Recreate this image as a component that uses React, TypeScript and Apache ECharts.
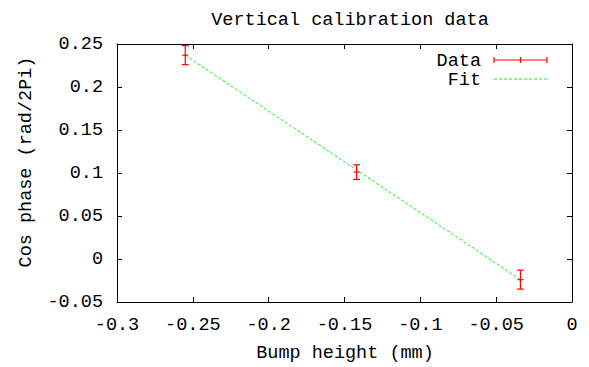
import React, { useEffect, useRef } from "react";
import * as echarts from "echarts";

const titleText = "Vertical calibration data";
const xAxisTitle = "Bump height (mm)";
const yAxisTitle = "Cos phase (rad/2Pi)";

// Data points with error bars
const bumpHeight = [-0.255, -0.142, -0.034];
const cosPhase = [0.237, 0.101, -0.024];
const phaseErr = [0.011, 0.0085, 0.011];

// Fit line endpoints
const fitX = [-0.255, -0.034];
const fitY = [0.237, -0.024];

const xMin = -0.3;
const xMax = 0;
const yMin = -0.05;
const yMax = 0.25;
const tickStep = 0.05;

const FONT = "Liberation Mono";
const FS = 18.5;

function fmt(v: number) {
  const r = parseFloat(v.toFixed(2));
  return r === 0 ? "0" : String(r);
}

export default function App() {
  const ref = useRef<HTMLDivElement>(null);
  useEffect(() => {
    if (!ref.current) return;
    const chart = echarts.init(ref.current, null, { renderer: "svg" });
    const errData = bumpHeight.map((x, i) => [
      x,
      cosPhase[i],
      cosPhase[i] - phaseErr[i],
      cosPhase[i] + phaseErr[i],
    ]);
    const axisCommon = {
      type: "value" as const,
      interval: tickStep,
      axisLine: { show: true, onZero: false, lineStyle: { color: "#000", width: 1 } },
      axisTick: { show: true, inside: true, length: 5, lineStyle: { color: "#000" } },
      splitLine: { show: false },
    };
    const labelCommon = {
      show: true,
      formatter: fmt,
      fontFamily: FONT,
      fontSize: FS,
      color: "#000",
      showMinLabel: true,
      showMaxLabel: true,
      hideOverlap: false,
    };
    chart.setOption({
      animation: false,
      backgroundColor: "#fff",
      textStyle: { fontFamily: FONT },
      title: {
        text: titleText,
        left: 345,
        top: 6,
        textAlign: "center",
        textStyle: { fontFamily: FONT, fontSize: FS, fontWeight: "normal", color: "#000" },
      },
      grid: { left: 117, right: 17, top: 44, bottom: 65, show: false },
      xAxis: [
        {
          ...axisCommon,
          min: xMin,
          max: xMax,
          position: "bottom",
          axisLabel: { ...labelCommon, margin: 14 },
        },
        {
          ...axisCommon,
          min: xMin,
          max: xMax,
          position: "top",
          axisLabel: { show: false },
        },
      ],
      yAxis: [
        {
          ...axisCommon,
          min: yMin,
          max: yMax,
          position: "left",
          axisLabel: { ...labelCommon, margin: 14 },
        },
        {
          ...axisCommon,
          min: yMin,
          max: yMax,
          position: "right",
          axisLabel: { show: false },
        },
      ],
      series: [
        {
          type: "line",
          name: "Fit",
          data: fitX.map((x, i) => [x, fitY[i]]),
          symbol: "none",
          lineStyle: { color: "#00ff00", width: 1, type: [3, 2] },
          z: 2,
        },
        {
          type: "custom",
          name: "Data",
          data: errData,
          z: 3,
          renderItem: (params: any, api: any) => {
            const x = api.value(0);
            const y = api.value(1);
            const lo = api.value(2);
            const hi = api.value(3);
            const c = api.coord([x, y]);
            const pLo = api.coord([x, lo]);
            const pHi = api.coord([x, hi]);
            const cap = 3.5;
            const style = { stroke: "#ff0000", lineWidth: 1.2 };
            return {
              type: "group",
              children: [
                { type: "line", shape: { x1: pLo[0], y1: pLo[1], x2: pHi[0], y2: pHi[1] }, style },
                { type: "line", shape: { x1: pLo[0] - cap, y1: pLo[1], x2: pLo[0] + cap, y2: pLo[1] }, style },
                { type: "line", shape: { x1: pHi[0] - cap, y1: pHi[1], x2: pHi[0] + cap, y2: pHi[1] }, style },
                { type: "line", shape: { x1: c[0] - 3, y1: c[1], x2: c[0] + 3, y2: c[1] }, style },
              ],
            };
          },
        },
      ],
      graphic: [
        {
          type: "text",
          x: 345,
          y: 353,
          style: {
            text: xAxisTitle,
            font: `${FS}px "${FONT}"`,
            fill: "#000",
            align: "center",
            verticalAlign: "middle",
          },
        },
        {
          type: "text",
          x: 26,
          y: 162,
          rotation: Math.PI / 2,
          style: {
            text: yAxisTitle,
            font: `${FS}px "${FONT}"`,
            fill: "#000",
            align: "center",
            verticalAlign: "middle",
          },
        },
        {
          type: "text",
          x: 481,
          y: 61,
          style: {
            text: "Data",
            font: `${FS}px "${FONT}"`,
            fill: "#000",
            align: "right",
            verticalAlign: "middle",
          },
        },
        { type: "line", shape: { x1: 494, y1: 60, x2: 547, y2: 60 }, style: { stroke: "#ff0000", lineWidth: 1.2 } },
        { type: "line", shape: { x1: 494, y1: 57, x2: 494, y2: 63 }, style: { stroke: "#ff0000", lineWidth: 1.2 } },
        { type: "line", shape: { x1: 520.5, y1: 57, x2: 520.5, y2: 63 }, style: { stroke: "#ff0000", lineWidth: 1.2 } },
        { type: "line", shape: { x1: 547, y1: 57, x2: 547, y2: 63 }, style: { stroke: "#ff0000", lineWidth: 1.2 } },
        {
          type: "text",
          x: 481,
          y: 80,
          style: {
            text: "Fit",
            font: `${FS}px "${FONT}"`,
            fill: "#000",
            align: "right",
            verticalAlign: "middle",
          },
        },
        {
          type: "line",
          shape: { x1: 494, y1: 79, x2: 547, y2: 79 },
          style: { stroke: "#00ff00", lineWidth: 1, lineDash: [3, 2] },
        },
      ],
    });
    return () => chart.dispose();
  }, []);
  return (
    <div
      ref={ref}
      style={{ position: "absolute", left: 0, top: 0, width: 589, height: 367, background: "#fff" }}
    />
  );
}
